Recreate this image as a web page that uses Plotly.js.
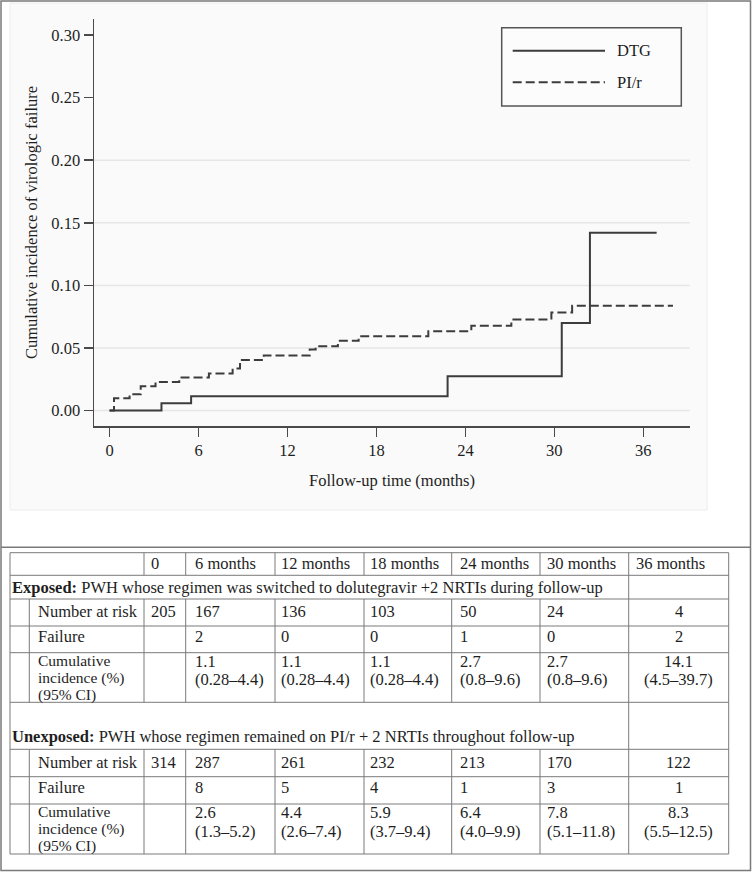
<!DOCTYPE html>
<html>
<head>
<meta charset="utf-8">
<script src="https://cdn.plot.ly/plotly-3.0.1.min.js"></script>
<style>
  html, body { margin: 0; padding: 0; background: #ffffff; }
  #chart { width: 752px; height: 872px; }
</style>
</head>
<body>
<div id="chart"></div>
<script>
// ---------------- DATA ----------------
const seriesNames = ['DTG', 'PI/r'];

const dtgTime = [0, 3.5, 5.5, 22.8, 30.5, 32.4, 36.9];
const dtgIncidence = [0, 0.0058, 0.0114, 0.0274, 0.0700, 0.1420, 0.1420];

const pirTime = [0, 0.3, 1.35, 2.1, 3.1, 4.7, 6.7, 8.3, 8.8, 10.4, 13.5, 13.9, 15.4, 16.8, 21.5, 24.4, 27.1, 29.8, 31.2, 38.0];
const pirIncidence = [0, 0.0098, 0.0130, 0.0194, 0.0229, 0.0264, 0.0296, 0.0336, 0.0405, 0.0440, 0.0488, 0.0514, 0.0557, 0.0594, 0.0634, 0.0677, 0.0728, 0.0784, 0.0837, 0.0837];

const xTickVals = [0, 6, 12, 18, 24, 30, 36];
const yTickVals = [0, 0.05, 0.10, 0.15, 0.20, 0.25, 0.30];
const yGridVals = [0, 0.05, 0.10, 0.15, 0.20];

const xTitle = 'Follow-up time (months)';
const yTitle = 'Cumulative incidence of virologic failure';

// table
const colHeaders = ['0', '6 months', '12 months', '18 months', '24 months', '30 months', '36 months'];
const rowLabels = ['Number at risk', 'Failure'];
const cumLabelLines = ['Cumulative', 'incidence (%)', '(95% CI)'];
const groupTitles = ['Exposed:', 'Unexposed:'];
const groupDescs = [
  'PWH whose regimen was switched to dolutegravir +2 NRTIs during follow-up',
  'PWH whose regimen remained on PI/r + 2 NRTIs throughout follow-up'
];
const expAtRisk = ['205', '167', '136', '103', '50', '24', '4'];
const expFailure = ['', '2', '0', '0', '1', '0', '2'];
const expCumInc = ['', '1.1', '1.1', '1.1', '2.7', '2.7', '14.1'];
const expCI = ['', '(0.28–4.4)', '(0.28–4.4)', '(0.28–4.4)', '(0.8–9.6)', '(0.8–9.6)', '(4.5–39.7)'];
const unexpAtRisk = ['314', '287', '261', '232', '213', '170', '122'];
const unexpFailure = ['', '8', '5', '4', '1', '3', '1'];
const unexpCumInc = ['', '2.6', '4.4', '5.9', '6.4', '7.8', '8.3'];
const unexpCI = ['', '(1.3–5.2)', '(2.6–7.4)', '(3.7–9.4)', '(4.0–9.9)', '(5.1–11.8)', '(5.5–12.5)'];

// ---------------- LAYOUT GEOMETRY ----------------
const W = 752, H = 872;
const ml = 94, mr = 62, mt = 19, mb = 446;
const pw = W - ml - mr, ph = H - mt - mb;
const X = px => (px - ml) / pw;
const Y = py => (H - mb - py) / ph;

const FONT = 'Liberation Serif, Times New Roman, serif';
const TXT = '#1e1e1e';
const LINE = '#3c3c3c';
const TBL = '#7a7a7a';

const shapes = [];
const annotations = [];

// outer frame & chart panel
shapes.push({type: 'rect', xref: 'paper', yref: 'paper', x0: X(10), x1: X(707), y0: Y(3), y1: Y(510),
  fillcolor: '#fafafa', line: {color: '#ececec', width: 1}, layer: 'below'});
shapes.push({type: 'rect', xref: 'paper', yref: 'paper', x0: X(1), x1: X(750.5), y0: Y(1), y1: Y(870.5),
  line: {color: '#7a7a7a', width: 1.5}, layer: 'above'});
shapes.push({type: 'line', xref: 'paper', yref: 'paper', x0: X(1), x1: X(750.5), y0: Y(547.3), y1: Y(547.3),
  line: {color: '#7a7a7a', width: 1.5}});

// gridlines
yGridVals.forEach(v => shapes.push({type: 'line', xref: 'paper', yref: 'y', x0: 0, x1: 1, y0: v, y1: v,
  line: {color: '#e6e6e6', width: 1.5}, layer: 'below'}));

// legend box
shapes.push({type: 'rect', xref: 'paper', yref: 'paper', x0: X(501.7), x1: X(681.3), y0: Y(27.7), y1: Y(106),
  fillcolor: '#fcfcfc', line: {color: '#555555', width: 1.5}});
shapes.push({type: 'line', xref: 'paper', yref: 'paper', x0: X(512.7), x1: X(605), y0: Y(50.7), y1: Y(50.7),
  line: {color: LINE, width: 2}});
shapes.push({type: 'line', xref: 'paper', yref: 'paper', x0: X(512.7), x1: X(605), y0: Y(82.3), y1: Y(82.3),
  line: {color: LINE, width: 2, dash: '9px,4px'}});
[50.5, 82].forEach((py, i) => annotations.push({xref: 'paper', yref: 'paper', x: X(617), y: Y(py),
  xanchor: 'left', yanchor: 'middle', showarrow: false, text: seriesNames[i], borderpad: 0, borderwidth: 0,
  font: {family: FONT, size: 16.5, color: TXT}}));

// ---------------- TABLE ----------------
const tL = 10, tIndent = 29.3, tR = 728.7;
const colEdges = [144, 185.7, 275, 364, 451.7, 540, 628.7, 728.7];
const rowEdges = [552.7, 575.3, 599, 626, 652.7, 702.3, 749.3, 776.7, 804, 854];
const textX = [151, 195, 281, 370, 460, 546.5];
const lastColCenter = (colEdges[6] + colEdges[7]) / 2;
const TS = 16.5;

function hline(py, x0, x1) {
  shapes.push({type: 'line', xref: 'paper', yref: 'paper', x0: X(x0), x1: X(x1), y0: Y(py), y1: Y(py),
    line: {color: TBL, width: 1}});
}
function vline(px, y0, y1) {
  shapes.push({type: 'line', xref: 'paper', yref: 'paper', x0: X(px), x1: X(px), y0: Y(y0), y1: Y(y1),
    line: {color: TBL, width: 1}});
}
function txt(px, py, s, anchor, size) {
  annotations.push({xref: 'paper', yref: 'paper', x: X(px), y: Y(py), xanchor: anchor || 'left', yanchor: 'middle',
    showarrow: false, text: s, borderpad: 0, borderwidth: 0,
    font: {family: FONT, size: size || TS, color: TXT}});
}

rowEdges.forEach(py => hline(py, tL, tR));
vline(tL, rowEdges[0], rowEdges[9]);
vline(tR, rowEdges[0], rowEdges[9]);
vline(colEdges[6], rowEdges[0], rowEdges[9]);
// header row verticals
colEdges.slice(0, 6).forEach(px => vline(px, rowEdges[0], rowEdges[1]));
// data blocks
[[rowEdges[2], rowEdges[5]], [rowEdges[6], rowEdges[9]]].forEach(([a, b]) => {
  vline(tIndent, a, b);
  colEdges.slice(0, 6).forEach(px => vline(px, a, b));
});

// header text
colHeaders.forEach((h, i) => {
  const px = i < 6 ? textX[i] : colEdges[6] + 7;
  txt(px, rowEdges[0] + 10.8, h);
});

function block(gi, titleRowTop, titleOffset, nar, fail, cum, ci, r0) {
  txt(tL + 2, titleRowTop + titleOffset, '<b>' + groupTitles[gi] + '</b> ' + groupDescs[gi]);
  const rNar = rowEdges[r0], rFail = rowEdges[r0 + 1], rCum = rowEdges[r0 + 2];
  txt(tIndent + 9, rNar + 12.7, rowLabels[0]);
  txt(tIndent + 9, rFail + 10.7, rowLabels[1]);
  [7.8, 25.0, 42.2].forEach((off, k) => txt(tIndent + 9, rCum + off, cumLabelLines[k], 'left', 15.5));
  for (let i = 0; i < 7; i++) {
    const left = i < 6;
    const px = left ? textX[i] : lastColCenter;
    const an = left ? 'left' : 'center';
    if (nar[i] !== '') txt(px, rNar + 12.7, nar[i], an);
    if (fail[i] !== '') txt(px, rFail + 10.7, fail[i], an);
    if (cum[i] !== '') txt(px, rCum + 8.6, cum[i], an);
    if (ci[i] !== '') txt(px, rCum + 27.2, ci[i], an);
  }
}
block(0, rowEdges[1], 12, expAtRisk, expFailure, expCumInc, expCI, 2);
block(1, rowEdges[5], 34.4, unexpAtRisk, unexpFailure, unexpCumInc, unexpCI, 6);

// ---------------- TRACES ----------------
const traces = [
  {x: dtgTime, y: dtgIncidence, name: seriesNames[0], type: 'scatter', mode: 'lines',
   line: {shape: 'hv', color: LINE, width: 2}, showlegend: false, hoverinfo: 'x+y+name'},
  {x: pirTime, y: pirIncidence, name: seriesNames[1], type: 'scatter', mode: 'lines',
   line: {shape: 'hv', color: LINE, width: 2, dash: '9px,4px'}, showlegend: false, hoverinfo: 'x+y+name'}
];

const layout = {
  width: W, height: H,
  margin: {l: ml, r: mr, t: mt, b: mb, pad: 0},
  paper_bgcolor: '#ffffff',
  plot_bgcolor: 'rgba(0,0,0,0)',
  font: {family: FONT, size: 16, color: TXT},
  showlegend: false,
  xaxis: {
    range: [-1.05, 39.15], tickvals: xTickVals, ticktext: xTickVals.map(String),
    showgrid: false, zeroline: false, showline: true, linecolor: '#4a4a4a', linewidth: 1.5,
    ticks: 'outside', ticklen: 9, tickwidth: 1.5, tickcolor: '#4a4a4a',
    tickfont: {family: FONT, size: 16.5, color: TXT},
    title: {text: xTitle, font: {family: FONT, size: 16.5, color: TXT}, standoff: 15},
    automargin: false, fixedrange: true
  },
  yaxis: {
    range: [-0.0123, 0.3128], tickvals: yTickVals, tickformat: '.2f',
    showgrid: false, zeroline: false, showline: true, linecolor: '#4a4a4a', linewidth: 1.5,
    ticks: 'outside', ticklen: 9, tickwidth: 1.5, tickcolor: '#4a4a4a',
    tickfont: {family: FONT, size: 16.5, color: TXT},
    title: {text: yTitle, font: {family: FONT, size: 16.5, color: TXT}, standoff: 9},
    automargin: false, fixedrange: true
  },
  shapes: shapes,
  annotations: annotations
};

Plotly.newPlot('chart', traces, layout, {displayModeBar: false, staticPlot: true});
</script>
</body>
</html>
